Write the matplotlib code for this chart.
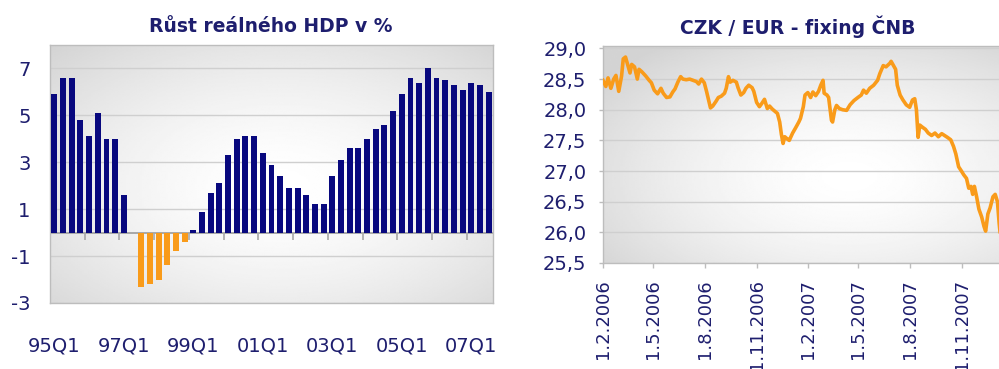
import numpy as np
import pandas as pd
import matplotlib
matplotlib.use("Agg")
import matplotlib.pyplot as plt
import matplotlib.dates as mdates

# ---------------- data ----------------
quarters = ["95Q1", "95Q2", "95Q3", "95Q4", "96Q1", "96Q2", "96Q3", "96Q4",
            "97Q1", "97Q2", "97Q3", "97Q4", "98Q1", "98Q2", "98Q3", "98Q4",
            "99Q1", "99Q2", "99Q3", "99Q4", "00Q1", "00Q2", "00Q3", "00Q4",
            "01Q1", "01Q2", "01Q3", "01Q4", "02Q1", "02Q2", "02Q3", "02Q4",
            "03Q1", "03Q2", "03Q3", "03Q4", "04Q1", "04Q2", "04Q3", "04Q4",
            "05Q1", "05Q2", "05Q3", "05Q4", "06Q1", "06Q2", "06Q3", "06Q4",
            "07Q1", "07Q2", "07Q3"]
gdp_growth = [5.9, 6.6, 6.6, 4.8, 4.1, 5.1, 4.0, 4.0, 1.6, 0.0,
              -2.3, -2.2, -2.0, -1.4, -0.8, -0.4, 0.1, 0.9, 1.7, 2.1,
              3.3, 4.0, 4.1, 4.1, 3.4, 2.9, 2.4, 1.9, 1.9, 1.6,
              1.2, 1.2, 2.4, 3.1, 3.6, 3.6, 4.0, 4.4, 4.6, 5.2,
              5.9, 6.6, 6.4, 7.0, 6.6, 6.5, 6.3, 6.1, 6.4, 6.3, 6.0]
gdp_xlabels = ["95Q1", "97Q1", "99Q1", "01Q1", "03Q1", "05Q1", "07Q1"]
gdp_yticks = [-3, -1, 1, 3, 5, 7]
gdp_title = "Růst reálného HDP v %"

fx_dates = ["2006-02-01", "2006-02-06", "2006-02-10", "2006-02-15", "2006-02-20", "2006-02-24",
            "2006-03-01", "2006-03-06", "2006-03-09", "2006-03-13", "2006-03-16", "2006-03-21",
            "2006-03-24", "2006-03-29", "2006-04-03", "2006-04-06", "2006-04-11", "2006-04-18",
            "2006-04-24", "2006-04-28", "2006-05-03", "2006-05-09", "2006-05-15", "2006-05-19",
            "2006-05-25", "2006-05-31", "2006-06-05", "2006-06-09", "2006-06-14", "2006-06-19",
            "2006-06-23", "2006-06-29", "2006-07-05", "2006-07-11", "2006-07-17", "2006-07-21",
            "2006-07-26", "2006-07-31", "2006-08-04", "2006-08-08", "2006-08-11", "2006-08-15",
            "2006-08-21", "2006-08-25", "2006-08-30", "2006-09-05", "2006-09-08", "2006-09-12",
            "2006-09-15", "2006-09-20", "2006-09-26", "2006-09-29", "2006-10-04", "2006-10-09",
            "2006-10-13", "2006-10-18", "2006-10-24", "2006-10-27", "2006-11-01", "2006-11-06",
            "2006-11-10", "2006-11-15", "2006-11-20", "2006-11-24", "2006-11-29", "2006-12-04",
            "2006-12-08", "2006-12-12", "2006-12-15", "2006-12-18", "2006-12-21", "2006-12-26",
            "2006-12-29", "2007-01-04", "2007-01-09", "2007-01-15", "2007-01-18", "2007-01-23",
            "2007-01-26", "2007-01-31", "2007-02-05", "2007-02-09", "2007-02-14", "2007-02-19",
            "2007-02-23", "2007-02-27", "2007-03-01", "2007-03-06", "2007-03-09", "2007-03-14",
            "2007-03-16", "2007-03-20", "2007-03-23", "2007-03-28", "2007-04-03", "2007-04-10",
            "2007-04-16", "2007-04-23", "2007-04-30", "2007-05-06", "2007-05-10", "2007-05-15",
            "2007-05-21", "2007-05-28", "2007-06-04", "2007-06-08", "2007-06-14", "2007-06-19",
            "2007-06-26", "2007-06-28", "2007-07-06", "2007-07-09", "2007-07-14", "2007-07-19",
            "2007-07-25", "2007-07-31", "2007-08-05", "2007-08-09", "2007-08-12", "2007-08-15",
            "2007-08-18", "2007-08-22", "2007-08-28", "2007-09-02", "2007-09-08", "2007-09-14",
            "2007-09-20", "2007-09-26", "2007-10-01", "2007-10-06", "2007-10-12", "2007-10-17",
            "2007-10-21", "2007-10-26", "2007-10-31", "2007-11-04", "2007-11-09", "2007-11-13",
            "2007-11-17", "2007-11-20", "2007-11-23", "2007-11-27", "2007-12-01", "2007-12-06",
            "2007-12-10", "2007-12-13", "2007-12-17", "2007-12-21", "2007-12-26", "2007-12-30",
            "2008-01-03", "2008-01-06", "2008-01-09"]
fx_values = [28.48, 28.38, 28.52, 28.35, 28.50, 28.56,
             28.30, 28.55, 28.83, 28.86, 28.76, 28.60,
             28.74, 28.70, 28.50, 28.66, 28.62, 28.55,
             28.48, 28.44, 28.32, 28.26, 28.35, 28.27,
             28.20, 28.21, 28.29, 28.34, 28.45, 28.54,
             28.50, 28.49, 28.50, 28.48, 28.46, 28.42,
             28.50, 28.44, 28.30, 28.15, 28.03, 28.06,
             28.14, 28.20, 28.22, 28.27, 28.35, 28.54,
             28.45, 28.48, 28.45, 28.36, 28.24, 28.28,
             28.35, 28.40, 28.36, 28.30, 28.12, 28.05,
             28.10, 28.17, 28.02, 28.06, 28.01, 27.97,
             27.94, 27.80, 27.60, 27.45, 27.56, 27.52,
             27.50, 27.62, 27.70, 27.80, 27.86, 28.05,
             28.24, 28.28, 28.20, 28.29, 28.23, 28.30,
             28.40, 28.48, 28.27, 28.24, 28.20, 27.83,
             27.80, 28.00, 28.07, 28.02, 28.00, 27.99,
             28.08, 28.15, 28.20, 28.24, 28.32, 28.27,
             28.35, 28.40, 28.48, 28.59, 28.72, 28.70,
             28.76, 28.79, 28.66, 28.40, 28.24, 28.16,
             28.08, 28.04, 28.16, 28.18, 28.00, 27.55,
             27.75, 27.72, 27.68, 27.62, 27.58, 27.62,
             27.56, 27.61, 27.58, 27.55, 27.51, 27.40,
             27.28, 27.07, 27.00, 26.94, 26.88, 26.72,
             26.75, 26.62, 26.75, 26.58, 26.38, 26.25,
             26.10, 26.02, 26.30, 26.40, 26.58, 26.62,
             26.50, 26.15, 25.88]
fx_xlabels = ["1.2.2006", "1.5.2006", "1.8.2006", "1.11.2006",
              "1.2.2007", "1.5.2007", "1.8.2007", "1.11.2007"]
fx_yticks = [25.5, 26.0, 26.5, 27.0, 27.5, 28.0, 28.5, 29.0]
fx_title = "CZK / EUR - fixing ČNB"

# ---------------- style ----------------
NAVY_TXT = "#1E1E6E"
BAR_BLUE = "#08087E"
ORANGE = "#F99B1A"
GRID = "#CFCFCF"
SPINE = "#BDBDBD"

plt.rcParams["font.family"] = ["DejaVu Sans"]
plt.rcParams["axes.unicode_minus"] = False

W, H = 999, 369
fig = plt.figure(figsize=(W / 100, H / 100), dpi=100)
fig.patch.set_facecolor("white")


def px_axes(left, top, right, bottom):
    return [left / W, 1 - bottom / H, (right - left) / W, (bottom - top) / H]


def gradient_bg(pos, cx, cy):
    bg = fig.add_axes(pos, zorder=0)
    yy, xx = np.mgrid[0:1:200j, 0:1:200j]
    r = np.sqrt(((xx - cx) / 0.75) ** 2 + ((yy - cy) / 0.75) ** 2)
    g = 1 - 0.17 * np.clip(r, 0, 1) ** 1.6
    bg.imshow(g, extent=[0, 1, 0, 1], origin="lower", cmap="gray",
              vmin=0, vmax=1, aspect="auto", interpolation="bilinear")
    bg.set_axis_off()
    return bg


# ---------------- left: GDP bars ----------------
posL = px_axes(50, 45, 493, 303)
gradient_bg(posL, 0.52, 0.45)
axL = fig.add_axes(posL, zorder=1)
axL.set_facecolor("none")
x = np.arange(len(quarters))
colors = [BAR_BLUE if v >= 0 else ORANGE for v in gdp_growth]
axL.bar(x, gdp_growth, width=0.68, color=colors, zorder=3)
axL.set_xlim(-0.5, len(quarters) - 0.5)
axL.set_ylim(-3, 8)
axL.set_yticks(gdp_yticks)
axL.set_yticklabels([str(v) for v in gdp_yticks])
axL.yaxis.grid(True, color=GRID, lw=1.0, zorder=0)
axL.set_axisbelow(True)
axL.axhline(0, color="#A8A8A8", lw=1.4, zorder=2)
tick_pos = np.arange(-0.5, len(quarters), 4)
axL.vlines(tick_pos, -0.3, 0, color="#A8A8A8", lw=1.2, zorder=2)
axL.set_xticks([quarters.index(q) for q in gdp_xlabels])
axL.set_xticklabels(gdp_xlabels)
axL.tick_params(axis="x", length=0, pad=24, labelsize=14, labelcolor=NAVY_TXT)
axL.tick_params(axis="y", length=0, pad=14, labelsize=14, labelcolor=NAVY_TXT)
for s in axL.spines.values():
    s.set_color(SPINE)
    s.set_linewidth(1.0)
fig.text(271 / W, 1 - 32.5 / H, gdp_title, ha="center", va="baseline",
         fontsize=13.5, fontweight="bold", color=NAVY_TXT)

# ---------------- right: CZK/EUR line ----------------
d0 = pd.Timestamp("2006-02-01")
d1 = pd.Timestamp("2007-11-01")
px_per_day = (962 - 603) / (d1 - d0).days
xr_end = pd.Timestamp("2008-01-31")
right_px = 603 + (xr_end - d0).days * px_per_day
posR = px_axes(603, 46, right_px, 263)
gradient_bg(posR, 0.6, 0.4)
axR = fig.add_axes(posR, zorder=1)
axR.set_facecolor("none")
dates = pd.to_datetime(fx_dates)
axR.plot(dates, fx_values, color=ORANGE, lw=2.6, solid_joinstyle="round", zorder=3)
axR.set_xlim(d0, xr_end)
axR.set_ylim(25.5, 29.04)
axR.set_yticks(fx_yticks)
axR.set_yticklabels([f"{v:.1f}".replace(".", ",") for v in fx_yticks])
axR.yaxis.grid(True, color=GRID, lw=1.0, zorder=0)
axR.set_axisbelow(True)
xt = [pd.to_datetime(s, format="%d.%m.%Y") for s in fx_xlabels]
axR.set_xticks(xt)
axR.set_xticklabels(fx_xlabels, rotation=90)
axR.tick_params(axis="x", length=3.5, width=1, color=SPINE, pad=8,
                labelsize=13, labelcolor=NAVY_TXT)
axR.tick_params(axis="y", length=3, width=1, color=SPINE, pad=9,
                labelsize=14, labelcolor=NAVY_TXT)
for s in axR.spines.values():
    s.set_color(SPINE)
    s.set_linewidth(1.0)
fig.text(798 / W, 1 - 34 / H, fx_title, ha="center", va="baseline",
         fontsize=13.5, fontweight="bold", color=NAVY_TXT)

fig.savefig("out.png", dpi=100, facecolor="white")
